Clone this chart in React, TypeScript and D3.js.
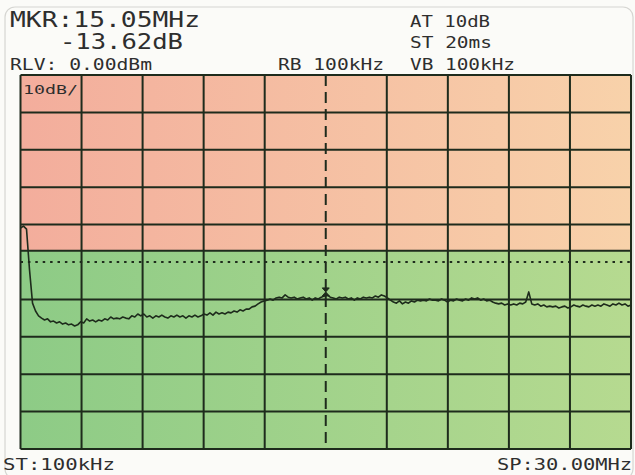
import React from 'react';
import * as d3 from 'd3';

// sweep settings
const START_MHZ = 0.1;
const STOP_MHZ = 30;
const REF_LEVEL = 0;
const DB_PER_DIV = 10;
const DIVS = 10;
const LIMIT_DB = -47;
const DISPLAY_LINE_DB = -50;
const MARKER_MHZ = 15.05;

// trace levels (dBm), one per sweep point from START to STOP
const traceLevels = [
  -40.9, -40.4, -41.2, -52.1, -61.0, -63.1, -64.4, -65.0, -65.5, -65.2,
  -66.0, -65.8, -66.3, -66.0, -66.6, -66.3, -66.8, -66.6, -67.1, -66.8,
  -66.0, -66.3, -65.2, -65.8, -65.5, -66.0, -65.5, -65.8, -65.2, -65.5,
  -64.7, -65.2, -65.0, -65.2, -64.7, -65.0, -65.2, -64.4, -64.7, -63.9,
  -64.4, -63.9, -64.7, -64.4, -65.0, -64.4, -64.7, -64.2, -64.7, -65.0,
  -64.4, -64.7, -64.2, -64.7, -64.4, -65.0, -64.4, -64.7, -64.2, -64.7,
  -64.4, -63.9, -64.2, -63.6, -64.2, -63.4, -63.9, -63.6, -63.9, -63.4,
  -63.6, -63.1, -63.4, -62.8, -63.1, -62.6, -62.6, -62.0, -61.8, -61.2,
  -60.7, -60.4, -60.2, -59.9, -60.2, -59.6, -59.4, -59.6, -58.8, -59.4,
  -59.6, -59.4, -59.9, -59.6, -59.4, -59.9, -59.6, -60.2, -59.6, -59.9,
  -59.4, -59.1, -58.8, -59.4, -59.6, -59.9, -59.4, -59.6, -59.4, -59.9,
  -59.6, -60.2, -59.6, -59.9, -59.4, -59.6, -59.4, -59.6, -59.1, -59.4,
  -58.8, -59.1, -59.6, -60.2, -60.7, -61.0, -60.4, -61.2, -60.7, -61.0,
  -60.4, -60.7, -60.2, -60.4, -60.2, -60.4, -59.9, -60.2, -60.2, -60.4,
  -59.9, -60.2, -60.7, -60.2, -60.4, -59.9, -60.2, -60.4, -59.9, -60.2,
  -59.6, -59.9, -59.6, -60.2, -59.9, -60.4, -60.2, -60.7, -61.0, -61.2,
  -61.0, -61.5, -61.2, -61.5, -61.2, -61.5, -61.0, -61.2, -60.7, -58.0,
  -61.2, -61.5, -61.2, -61.8, -61.5, -62.0, -61.8, -62.0, -61.8, -62.3,
  -62.0, -61.8, -62.3, -62.0, -61.5, -61.8, -62.0, -61.5, -61.8, -62.0,
  -61.5, -61.8, -61.5, -61.8, -61.2, -61.5, -61.8, -61.2, -61.5, -61.0,
  -61.5, -61.2, -61.8, -61.5,
];

const headerLarge = ['MKR:15.05MHz', '-13.62dB'];
const headerSmall = ['RLV: 0.00dBm', 'RB 100kHz', 'AT 10dB', 'ST 20ms', 'VB 100kHz'];
const scaleLabel = '10dB/';
const footer = ['ST:100kHz', 'SP:30.00MHz'];

const W = 635;
const H = 475;
const plot = { left: 20.5, right: 631, top: 75, bottom: 449 };
const ink = '#1e2b1c';
const textInk = '#2e2e2e';
const mono = '"DejaVu Sans Mono", "Liberation Mono", monospace';

export default function App() {
  const x = d3.scaleLinear().domain([START_MHZ, STOP_MHZ]).range([plot.left, plot.right]);
  const y = d3
    .scaleLinear()
    .domain([REF_LEVEL - DB_PER_DIV * DIVS, REF_LEVEL])
    .range([plot.bottom, plot.top]);

  const n = traceLevels.length;
  const freqOf = (i: number) => START_MHZ + (i * (STOP_MHZ - START_MHZ)) / (n - 1);
  const line = d3
    .line<number>()
    .x((d, i) => x(freqOf(i)))
    .y((d) => y(d));

  const vFreqs = d3.range(DIVS + 1).map((k) => START_MHZ + (k * (STOP_MHZ - START_MHZ)) / DIVS);
  const hLevels = d3.range(DIVS + 1).map((k) => REF_LEVEL - k * DB_PER_DIV);

  const mIdx = Math.round(((MARKER_MHZ - START_MHZ) / (STOP_MHZ - START_MHZ)) * (n - 1));
  const mx = x(MARKER_MHZ);
  const my = y(traceLevels[mIdx]) - 3;

  const w = plot.right - plot.left;

  return (
    <svg width={W} height={H} style={{ position: 'absolute', left: 0, top: 0 }}>
      <defs>
        <linearGradient id="pinkGrad" x1="0" x2="1" y1="0" y2="0">
          <stop offset="0" stopColor="#f3ad9c" />
          <stop offset="1" stopColor="#f8d2aa" />
        </linearGradient>
        <linearGradient id="greenGrad" x1="0" x2="1" y1="0" y2="0">
          <stop offset="0" stopColor="#8dcb86" />
          <stop offset="1" stopColor="#b6da90" />
        </linearGradient>
      </defs>
      <rect x={0} y={0} width={W} height={H} fill="#fbfbf8" />
      <rect x={5} y={7} width={628} height={472} rx={10} fill="none" stroke="#d6d6d2" strokeWidth={1.2} />

      {/* bands: above / below the limit */}
      <rect x={plot.left} y={plot.top} width={w} height={y(LIMIT_DB) - plot.top} fill="url(#pinkGrad)" />
      <rect x={plot.left} y={y(LIMIT_DB)} width={w} height={plot.bottom - y(LIMIT_DB)} fill="url(#greenGrad)" />

      {/* grid */}
      {hLevels.map((lv, k) =>
        lv === DISPLAY_LINE_DB ? null : (
          <line key={'h' + k} x1={plot.left} x2={plot.right} y1={y(lv)} y2={y(lv)} stroke={ink} strokeWidth={2} />
        )
      )}
      {vFreqs.map((f, k) => (
        <line
          key={'v' + k}
          x1={x(f)}
          x2={x(f)}
          y1={plot.top}
          y2={plot.bottom}
          stroke={ink}
          strokeWidth={2}
          strokeDasharray={k === DIVS / 2 ? '11 6' : undefined}
        />
      ))}
      <line x1={plot.left} x2={plot.right} y1={y(LIMIT_DB)} y2={y(LIMIT_DB)} stroke={ink} strokeWidth={2} />
      <line
        x1={plot.left}
        x2={plot.right}
        y1={y(DISPLAY_LINE_DB)}
        y2={y(DISPLAY_LINE_DB)}
        stroke={ink}
        strokeWidth={2}
        strokeDasharray="2.5 4.9"
      />

      {/* trace */}
      <path d={line(traceLevels) || ''} fill="none" stroke={ink} strokeWidth={1.6} strokeLinejoin="round" />

      {/* marker */}
      <path
        d={`M${mx - 3.5},${my - 4} L${mx + 3.5},${my - 4} L${mx},${my} L${mx + 3.5},${my + 4} L${mx - 3.5},${my + 4} L${mx},${my} Z`}
        fill={ink}
        stroke={ink}
        strokeWidth={1}
      />

      {/* texts */}
      <g fontFamily={mono} fill={textInk}>
        <text x={10} y={27} fontSize={21} textLength={190} lengthAdjust="spacingAndGlyphs">{headerLarge[0]}</text>
        <text x={60} y={49} fontSize={21} textLength={123} lengthAdjust="spacingAndGlyphs">{headerLarge[1]}</text>
        <text x={10} y={70} fontSize={16} textLength={142} lengthAdjust="spacingAndGlyphs">{headerSmall[0]}</text>
        <text x={278} y={70} fontSize={16} textLength={106} lengthAdjust="spacingAndGlyphs">{headerSmall[1]}</text>
        <text x={410} y={27} fontSize={16} textLength={80} lengthAdjust="spacingAndGlyphs">{headerSmall[2]}</text>
        <text x={410} y={48} fontSize={16} textLength={82} lengthAdjust="spacingAndGlyphs">{headerSmall[3]}</text>
        <text x={410} y={70} fontSize={16} textLength={105} lengthAdjust="spacingAndGlyphs">{headerSmall[4]}</text>
        <text x={23} y={94} fontSize={12.5} textLength={55} lengthAdjust="spacingAndGlyphs">{scaleLabel}</text>
        <text x={3} y={470} fontSize={16} textLength={112} lengthAdjust="spacingAndGlyphs">{footer[0]}</text>
        <text x={497} y={470} fontSize={16} textLength={135} lengthAdjust="spacingAndGlyphs">{footer[1]}</text>
      </g>
    </svg>
  );
}
